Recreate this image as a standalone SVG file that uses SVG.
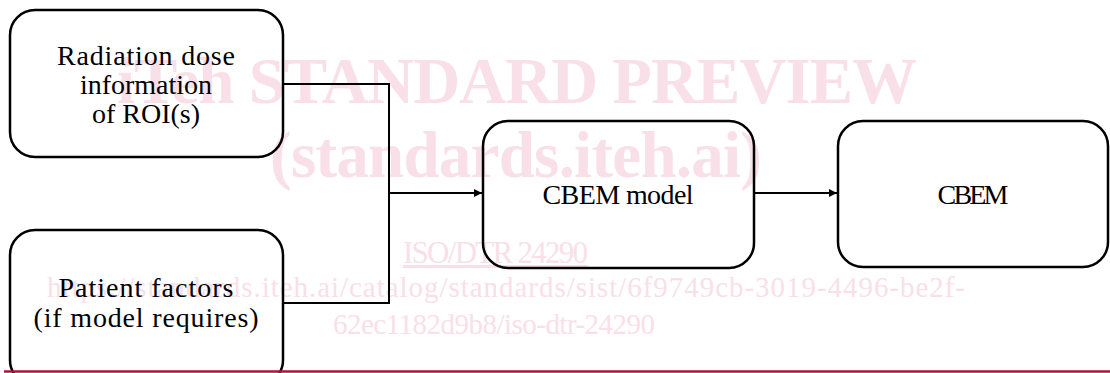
<svg xmlns="http://www.w3.org/2000/svg" width="1110" height="373" viewBox="0 0 1110 373">
  <defs>
    <marker id="arrow" viewBox="0 0 10 10" refX="10" refY="5" markerWidth="10" markerHeight="8" markerUnits="userSpaceOnUse" orient="auto">
      <path d="M0,0 L10,5 L0,10 z" fill="#000"/>
    </marker>
    <style>
      text { font-family: 'Liberation Serif', 'DejaVu Serif', serif; }
      .wm { fill: #f9e0e8; }
      .wmb { font-weight: bold; font-size: 65px; }
      .box { fill: none; stroke: #000; stroke-width: 2.5; }
      .lbl { font-size: 28px; fill: #000; text-anchor: middle; }
      .conn { fill: none; stroke: #000; stroke-width: 2; }
    </style>
  </defs>
  <rect width="1110" height="373" fill="#fff"/>
  <g id="watermark">
    <text class="wm wmb" x="117" y="103" textLength="800">iTeh STANDARD PREVIEW</text>
    <text class="wm wmb" x="270" y="177" textLength="492">(standards.iteh.ai)</text>
    <text class="wm" x="403" y="263" font-size="31" textLength="185" text-decoration="underline">ISO/DTR 24290</text>
    <text class="wm" x="47" y="297" font-size="29" textLength="918">https://standards.iteh.ai/catalog/standards/sist/6f9749cb-3019-4496-be2f-</text>
    <text class="wm" x="333" y="334" font-size="29" textLength="322">62ec1182d9b8/iso-dtr-24290</text>
  </g>
  <g id="connectors">
    <path class="conn" d="M283,84 H389 V303 H283"/>
    <path class="conn" d="M389,193 H482" marker-end="url(#arrow)"/>
    <path class="conn" d="M754,193 H837" marker-end="url(#arrow)"/>
  </g>
  <g id="node-radiation">
    <rect class="box" x="10" y="10" width="273" height="147" rx="25"/>
    <text class="lbl" x="146" y="65" textLength="178">Radiation dose</text>
    <text class="lbl" x="146" y="94">information</text>
    <text class="lbl" x="146" y="123">of ROI(s)</text>
  </g>
  <g id="node-patient">
    <rect class="box" x="10" y="230" width="273" height="155" rx="25"/>
    <text class="lbl" x="146" y="297" textLength="175">Patient factors</text>
    <text class="lbl" x="146" y="327" textLength="225">(if model requires)</text>
  </g>
  <g id="node-cbem-model">
    <rect class="box" x="483" y="121" width="271" height="147" rx="25"/>
    <text class="lbl" x="618" y="204" textLength="151">CBEM model</text>
  </g>
  <g id="node-cbem">
    <rect class="box" x="838" y="121" width="270" height="146" rx="25"/>
    <text class="lbl" x="973" y="204" textLength="71">CBEM</text>
  </g>
  <line x1="4" y1="371.5" x2="1110" y2="371.5" stroke="#b5103c" stroke-width="2.5"/>
</svg>
